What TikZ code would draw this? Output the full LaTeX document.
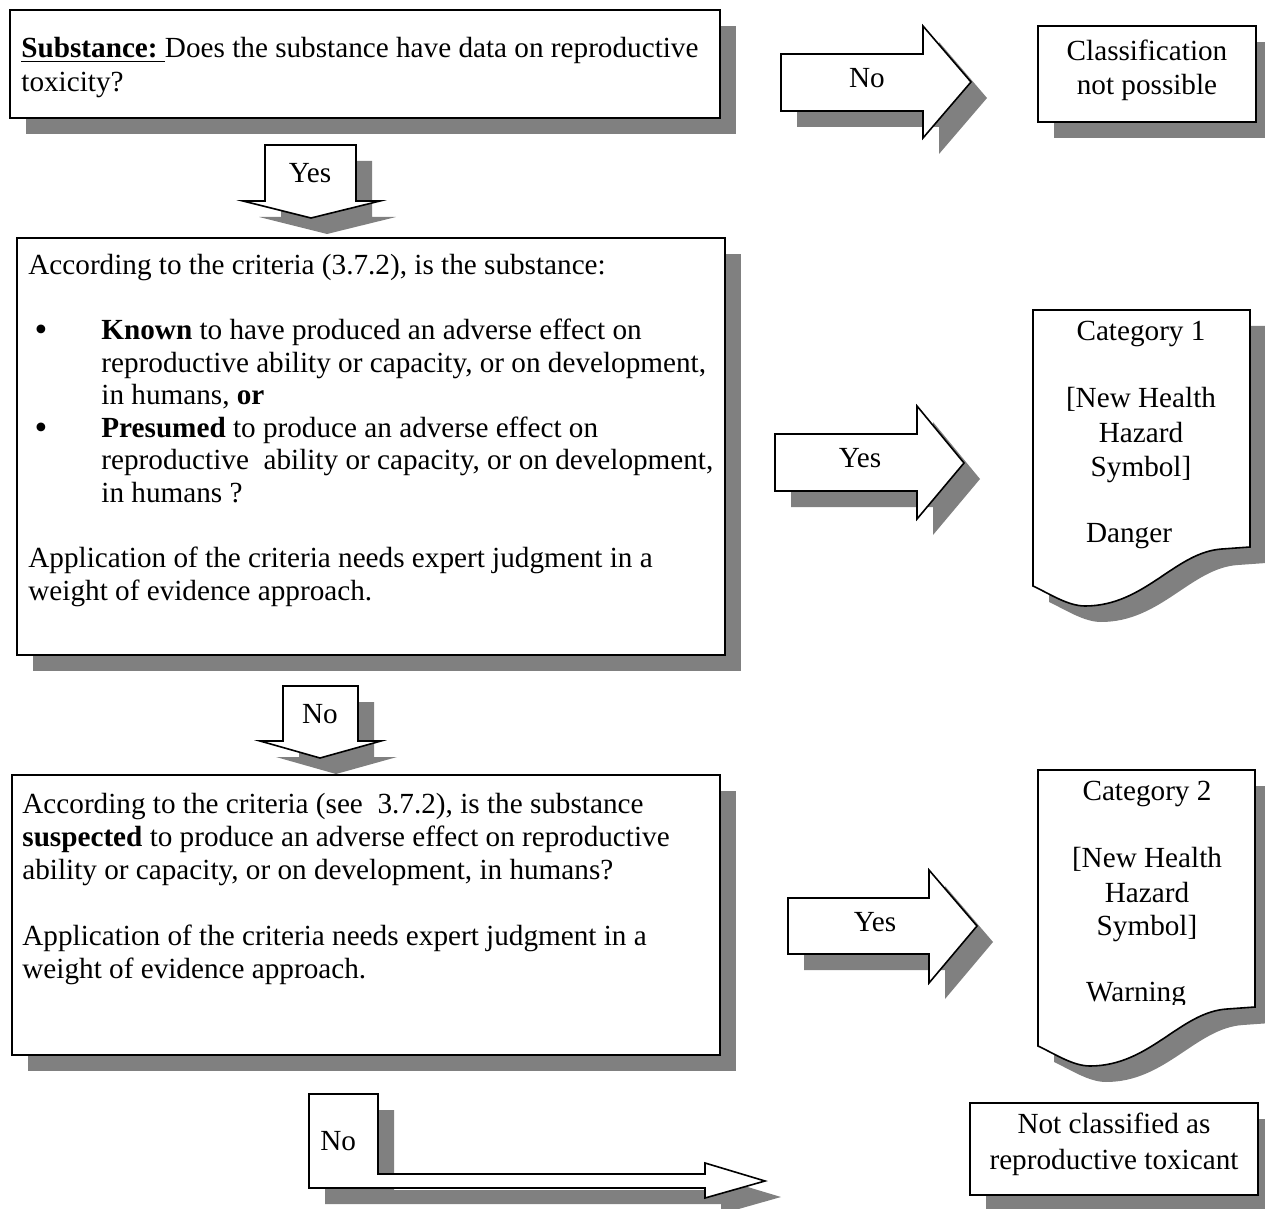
\documentclass[tikz,border=0pt]{standalone}
\usepackage{fontspec}
\setmainfont{Liberation Serif}
\definecolor{shadowgray}{gray}{0.5}
\newcommand\mainsize{\fontsize{14.6pt}{16.3pt}\selectfont}
\newcommand\shadowedpath[1]{\fill[shd,shift={(16,16)}] #1;\filldraw[shp] #1;}
\tikzset{
  shp/.style={draw=black,line width=0.8pt,fill=white,line join=miter},
  shd/.style={fill=shadowgray},
  txt/.style={inner sep=0pt,anchor=base west,font=\mainsize},
  ctxt/.style={inner sep=0pt,anchor=base,font=\mainsize},
}
\begin{document}
\begin{tikzpicture}[x=0.5pt,y=-0.5pt]
\useasboundingbox (0,0) rectangle (1265,1209);
% ---------- shapes ----------
% box 1
\shadowedpath{(10,10) rectangle (720,118)}
% No arrow (right, top)
\shadowedpath{(781,54) -- (923,54) -- (923,26) -- (971,82) -- (923,138) -- (923,111) -- (781,111) -- cycle}
% Classification box
\shadowedpath{(1038,26) rectangle (1256,122)}
% Yes arrow down
\shadowedpath{(265,145) -- (356,145) -- (356,201) -- (380,201) -- (311,218) -- (243,201) -- (265,201) -- cycle}
% box 2
\shadowedpath{(17,238) rectangle (725,655)}
% Yes arrow 1
\shadowedpath{(775,434) -- (917,434) -- (917,406) -- (964,463) -- (917,519) -- (917,491) -- (775,491) -- cycle}
% document 1
\shadowedpath{(1033,310) -- (1250,310) -- (1250,547) -- (1222,549) .. controls (1175,552) and (1145,606) .. (1085,606) .. controls (1068,606) and (1050,594) .. (1033,586) -- cycle}
% No arrow down
\shadowedpath{(283,686) -- (358,686) -- (358,741) -- (381,741) -- (320,758) -- (260,741) -- (283,741) -- cycle}
% box 3
\shadowedpath{(12,775) rectangle (720,1055)}
% Yes arrow 2
\shadowedpath{(788,898) -- (929,898) -- (929,870) -- (977,926) -- (929,983) -- (929,954) -- (788,954) -- cycle}
% document 2
\shadowedpath{(1038,770) -- (1255,770) -- (1255,1007) -- (1227,1009) .. controls (1180,1012) and (1150,1066) .. (1090,1066) .. controls (1073,1066) and (1055,1054) .. (1038,1046) -- cycle}
% bottom No connector
\shadowedpath{(309,1094) -- (378,1094) -- (378,1174) -- (705,1174) -- (705,1163) -- (765,1181) -- (705,1198) -- (705,1188) -- (309,1188) -- cycle}
% Not classified box
\shadowedpath{(970,1103) rectangle (1258,1195)}
% ---------- texts ----------
\node[txt] (t1a) at (21,58) {\underline{\textbf{Substance:}\ }Does the substance have data on reproductive};
\node[txt] (t1b) at (21,92) {toxicity?};
\node[ctxt] (lno1) at (867,88) {No};
\node[ctxt] (c1) at (1147,61) {Classification};
\node[ctxt] (c2) at (1147,95) {not possible};
\node[ctxt] (lyes0) at (310,183) {Yes};
% box 2 text
\node[txt] (b2a) at (28,275) {According to the criteria (3.7.2), is the substance:};
\node[txt,scale=1.25] (bul1) at (34,342) {\textbullet};
\node[txt] (b2b) at (101,340) {\textbf{Known} to have produced an adverse effect on};
\node[txt] (b2c) at (101,372.5) {reproductive ability or capacity, or on development,};
\node[txt] (b2d) at (101,405) {in humans, \textbf{or}};
\node[txt,scale=1.25] (bul2) at (34,439.5) {\textbullet};
\node[txt] (b2e) at (101,437.5) {\textbf{Presumed} to produce an adverse effect on};
\node[txt] (b2f) at (101,470) {reproductive\ \ ability or capacity, or on development,};
\node[txt] (b2g) at (101,502.5) {in humans ?};
\node[txt] (b2h) at (28,567.5) {Application of the criteria needs expert judgment in a};
\node[txt] (b2i) at (28,600) {weight of evidence approach.};
\node[ctxt] (lyes1) at (860,467) {Yes};
% document 1 text
\node[ctxt] (d1a) at (1141,341) {Category 1};
\node[ctxt] (d1b) at (1141,408) {[New Health};
\node[ctxt] (d1c) at (1141,443) {Hazard};
\node[ctxt] (d1d) at (1141,477) {Symbol]};
\node[ctxt] (d1e) at (1129,542) {Danger};
\node[ctxt] (lno2) at (320,723) {No};
% box 3 text
\node[txt] (b3a) at (22,813) {According to the criteria (see\ \ 3.7.2), is the substance};
\node[txt] (b3b) at (22,846) {\textbf{suspected} to produce an adverse effect on reproductive};
\node[txt] (b3c) at (22,879) {ability or capacity, or on development, in humans?};
\node[txt] (b3d) at (22,945) {Application of the criteria needs expert judgment in a};
\node[txt] (b3e) at (22,978) {weight of evidence approach.};
\node[ctxt] (lyes2) at (875,931) {Yes};
% document 2 text
\node[ctxt] (d2a) at (1147,800) {Category 2};
\node[ctxt] (d2b) at (1147,867) {[New Health};
\node[ctxt] (d2c) at (1147,902) {Hazard};
\node[ctxt] (d2d) at (1147,935) {Symbol]};
\begin{scope}
\clip (1040,960) rectangle (1250,1004);
\node[ctxt] (d2e) at (1136,1001) {Warning};
\end{scope}
% bottom
\node[txt] (lno3) at (320,1150) {No};
\node[ctxt] (n1) at (1114,1133) {Not classified as};
\node[ctxt] (n2) at (1114,1169) {reproductive toxicant};
\end{tikzpicture}
\end{document}
